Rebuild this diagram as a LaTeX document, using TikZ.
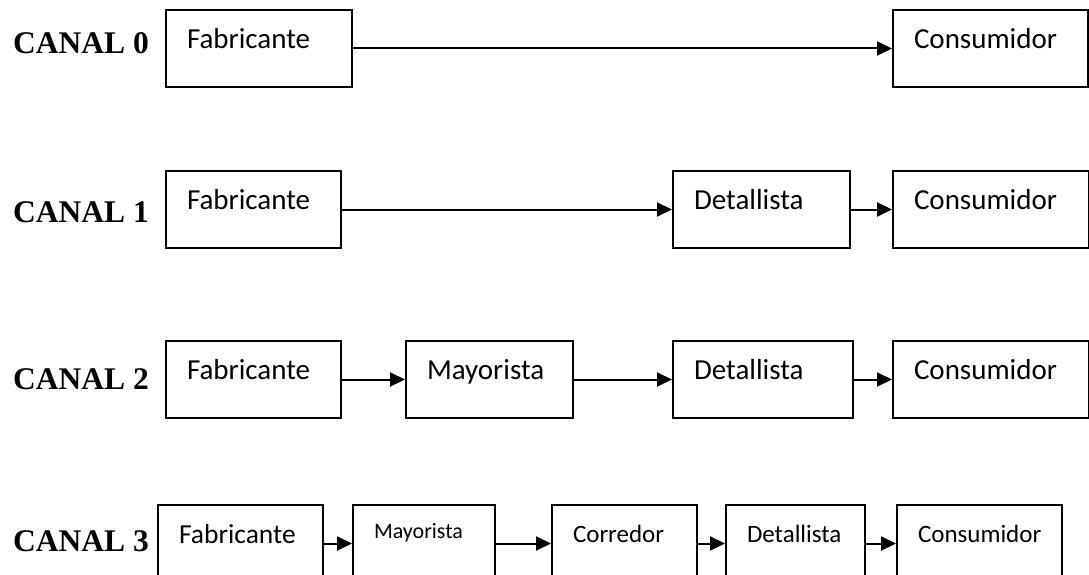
\documentclass[tikz,border=0pt]{standalone}
\usepackage{fontspec}
\setmainfont{Carlito}
\newfontfamily\labfont{Liberation Serif}
\usetikzlibrary{arrows.meta}
\tikzset{
  box/.style={draw, line width=2pt, anchor=north west, inner xsep=21pt, inner ysep=0pt,
    align=left, minimum height=77pt, text height=38.5pt, text depth=38.5pt,
    font=\fontsize{29}{30}\selectfont},
  smallbox/.style={box, text height=37pt, text depth=40pt, font=\fontsize{25}{27}\selectfont},
  canal/.style={anchor=base west, inner sep=0pt, font=\labfont\bfseries\fontsize{31.5}{33}\selectfont},
  flow/.style={line width=2pt, -{Triangle[length=15pt,width=14pt]}}
}
\begin{document}
\begin{tikzpicture}[x=1pt,y=-1pt]
\useasboundingbox (0,0) rectangle (1089,575);
% Row 0
\node[canal] (l0) at (13,54) {CANAL 0};
\node[box, minimum width=186pt, text width=144pt] (f0) at (165,9) {Fabricante};
\node[box, minimum width=195pt, text width=153pt] (c0) at (892,9) {Consumidor};
\draw[flow] (f0.east) -- (c0.west);
% Row 1
\node[canal] (l1) at (13,222) {CANAL 1};
\node[box, minimum width=175pt, text width=133pt] (f1) at (165,170) {Fabricante};
\node[box, minimum width=177pt, text width=135pt] (d1) at (672,170) {Detallista};
\node[box, minimum width=196pt, text width=154pt] (c1) at (892,170) {Consumidor};
\draw[flow] (f1.east) -- (d1.west);
\draw[flow] (d1.east) -- (c1.west);
% Row 2
\node[canal] (l2) at (13,389) {CANAL 2};
\node[box, minimum width=175pt, text width=133pt] (f2) at (165,340) {Fabricante};
\node[box, minimum width=167pt, text width=125pt] (m2) at (405,340) {Mayorista};
\node[box, minimum width=180pt, text width=138pt] (d2) at (672,340) {Detallista};
\node[box, minimum width=196pt, text width=154pt] (c2) at (892,340) {Consumidor};
\draw[flow] (f2.east) -- (m2.west);
\draw[flow] (m2.east) -- (d2.west);
\draw[flow] (d2.east) -- (c2.west);
% Row 3
\node[canal] (l3) at (13,551) {CANAL 3};
\node[box, minimum width=165pt, text width=123pt, font=\fontsize{27.5}{29}\selectfont] (f3) at (157,504) {Fabricante};
\node[box, minimum width=142pt, text width=100pt, text height=33pt, text depth=44pt,
      font=\fontsize{22}{24}\selectfont] (m3) at (352,504) {Mayorista};
\node[smallbox, minimum width=145pt, text width=103pt] (co3) at (551,504) {Corredor};
\node[smallbox, minimum width=139pt, text width=97pt] (d3) at (725,504) {Detallista};
\node[smallbox, minimum width=165pt, text width=123pt] (c3) at (896,504) {Consumidor};
\draw[flow] (f3.east) -- (m3.west);
\draw[flow] (m3.east) -- (co3.west);
\draw[flow] (co3.east) -- (d3.west);
\draw[flow] (d3.east) -- (c3.west);
\end{tikzpicture}
\end{document}
